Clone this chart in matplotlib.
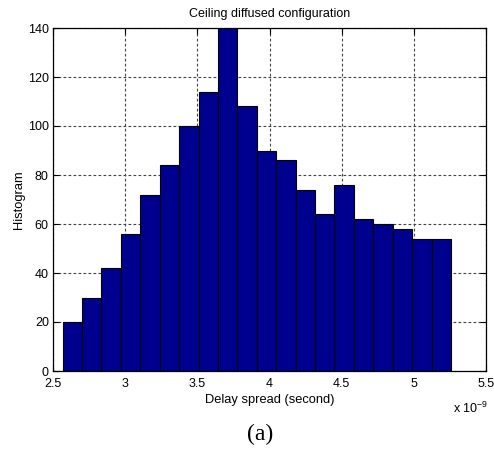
import numpy as np
import matplotlib
matplotlib.use("Agg")
import matplotlib.pyplot as plt
from matplotlib.ticker import FixedLocator

# Histogram of delay spread (ns units, scaled by 1e-9 on the axis)
counts = [20, 30, 42, 56, 72, 84, 100, 114, 140, 108,
          90, 86, 74, 64, 76, 62, 60, 58, 54, 54]
first_edge = 2.567
bin_width = 0.1345
x_ticks = [2.5, 3, 3.5, 4, 4.5, 5, 5.5]
x_tick_labels = ["2.5", "3", "3.5", "4", "4.5", "5", "5.5"]
y_ticks = [0, 20, 40, 60, 80, 100, 120, 140]

plt.rcParams['font.family'] = ['Liberation Sans', 'DejaVu Sans']

fig = plt.figure(figsize=(4.94, 4.51), dpi=100)
ax = fig.add_axes([53/494, 80/451, 433/494, 343/451])

left_edges = first_edge + bin_width * np.arange(len(counts))
ax.bar(left_edges, counts, width=bin_width, align='edge',
       color='#00008F', edgecolor='black', linewidth=0.8, zorder=3)

ax.set_xlim(2.5, 5.5)
ax.set_ylim(0, 140)
ax.xaxis.set_major_locator(FixedLocator(x_ticks))
ax.set_xticklabels(x_tick_labels)
ax.yaxis.set_major_locator(FixedLocator(y_ticks))

ax.grid(True, color='#444444', linestyle=(0, (2.5, 2.0)), linewidth=0.8, zorder=1)
ax.tick_params(direction='in', length=4, width=0.8, top=True, right=True,
               labelsize=9, colors='black')
ax.tick_params(axis='x', pad=5)
ax.tick_params(axis='y', pad=3)
for s in ax.spines.values():
    s.set_linewidth(0.9)
    s.set_zorder(4)

ax.set_title("Ceiling diffused configuration", fontsize=9, pad=8)
ax.set_xlabel("Delay spread (second)", fontsize=9.3, labelpad=3)
ax.set_ylabel("Histogram", fontsize=9.3, labelpad=2)

fig.text(453/494, 1 - 408/451, r"x 10$^{\mathregular{-9}}$", fontsize=9,
         ha='left', va='center')
fig.text(260/494, 1 - 434/451, "(a)", fontsize=17, family='Liberation Serif',
         ha='center', va='center')

fig.savefig("out.png", dpi=100)
